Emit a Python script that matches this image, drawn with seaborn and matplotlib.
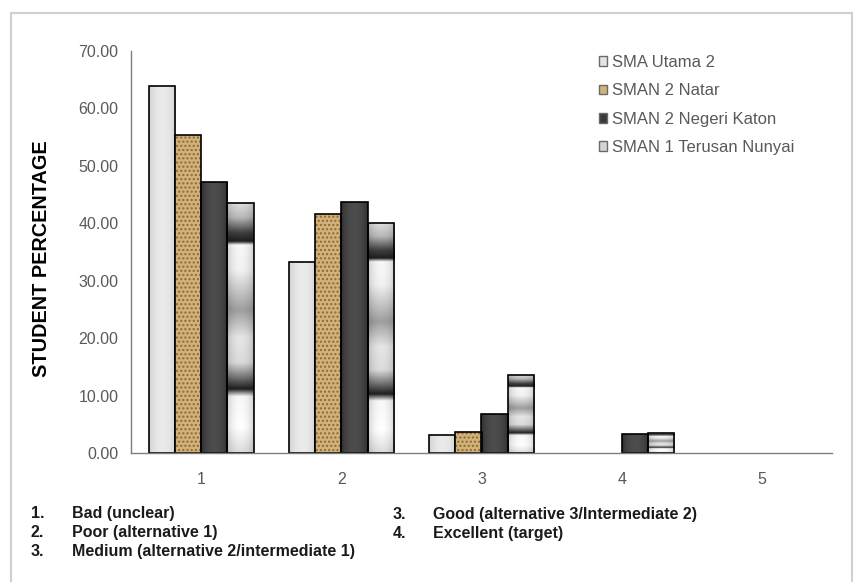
import numpy as np
import pandas as pd
import seaborn as sns
import matplotlib.pyplot as plt
from matplotlib.patches import Patch, Rectangle

# Data
categories = ["1", "2", "3", "4", "5"]
schools = ["SMA Utama 2", "SMAN 2 Natar", "SMAN 2 Negeri Katon", "SMAN 1 Terusan Nunyai"]
sma_utama_2 = [63.9, 33.3, 3.2, 0.0, 0.0]
sman_2_natar = [55.4, 41.7, 3.7, 0.0, 0.0]
sman_2_negeri_katon = [47.2, 43.7, 6.8, 3.3, 0.0]
sman_1_terusan_nunyai = [43.6, 40.1, 13.6, 3.5, 0.0]
y_ticks = [0, 10, 20, 30, 40, 50, 60, 70]
note_nums_left = ["1.", "2.", "3."]
notes_left = ["Bad (unclear)", "Poor (alternative 1)", "Medium (alternative 2/intermediate 1)"]
note_nums_right = ["3.", "4."]
notes_right = ["Good (alternative 3/Intermediate 2)", "Excellent (target)"]

df = pd.DataFrame({
    "category": categories * 4,
    "school": np.repeat(schools, len(categories)),
    "value": sma_utama_2 + sman_2_natar + sman_2_negeri_katon + sman_1_terusan_nunyai,
})

sns.set_theme(style="white")
plt.rcParams["font.family"] = ["Liberation Sans", "DejaVu Sans"]
plt.rcParams["hatch.linewidth"] = 1.0

legend_colors = ["#e4e4e4", "#d2b27a", "#3a3a3a", "#d4d4d4"]


def cylinder(n=40, lo=0.82, hi=1.0):
    x = np.linspace(0, 1, n)
    return lo + (hi - lo) * np.sin(np.pi * x) ** 0.6


def solid_texture(gray_lo, gray_hi):
    shade = gray_lo + (gray_hi - gray_lo) * (cylinder() - 0.82) / 0.18
    img = np.tile(shade[None, :], (4, 1))
    return np.dstack([img, img, img])


# stretched banded fill of the last series (fraction from top, grey level)
band_pos = [0, 0.06, 0.12, 0.155, 0.17, 0.27, 0.43, 0.54, 0.64, 0.70, 0.745, 0.775, 0.9, 1.0]
band_val = [0.88, 0.72, 0.25, 0.12, 0.97, 0.95, 0.62, 0.9, 0.86, 0.45, 0.12, 0.97, 1.0, 0.86]
rows = np.interp(np.linspace(0, 1, 300), band_pos, band_val)
band_img = np.clip(rows[:, None] * cylinder(lo=0.8)[None, :], 0, 1)
band_img = np.dstack([band_img, band_img, band_img])

textures = {
    "SMA Utama 2": solid_texture(0.80, 0.92),
    "SMAN 2 Negeri Katon": solid_texture(0.17, 0.30),
    "SMAN 1 Terusan Nunyai": band_img,
}

fig = plt.figure(figsize=(8.54, 5.82), dpi=100)
ax = fig.add_axes([131 / 854, 1 - 453 / 582, 701 / 854, 402 / 582])

sns.barplot(data=df, x="category", y="value", hue="school", order=categories,
            hue_order=schools, palette=dict(zip(schools, legend_colors)),
            width=0.75, saturation=1, edgecolor="black", linewidth=1.2,
            errorbar=None, legend=False, ax=ax)

for name, cont in zip(schools, ax.containers):
    for bar in cont:
        h = bar.get_height()
        if h <= 0:
            bar.set_visible(False)
            continue
        x0, w = bar.get_x(), bar.get_width()
        if name in textures:
            im = ax.imshow(textures[name], extent=[x0, x0 + w, 0, h], aspect="auto",
                           interpolation="bilinear", zorder=bar.get_zorder() - 0.01)
            im.set_clip_path(bar)
            bar.set_facecolor("none")
        else:
            # sandy fill: hatch in brown, outline drawn again in black
            bar.set_hatch("....")
            bar.set_edgecolor("#8a6a35")
            bar.set_linewidth(0)
            ax.add_patch(Rectangle((x0, 0), w, h, fill=False, edgecolor="black",
                                   linewidth=1.2, zorder=bar.get_zorder() + 0.01))

ax.set_xlim(-0.5, len(categories) - 0.5)
ax.set_ylim(0, 70)
ax.set_yticks(y_ticks)
ax.set_yticklabels([f"{v:.2f}" for v in y_ticks])
ax.set_xticks(np.arange(len(categories)) + 0.5)
ax.set_xticklabels([])
ax.set_xticks(np.arange(len(categories)), minor=True)
ax.set_xticklabels(categories, minor=True)
ax.tick_params(axis="x", which="major", length=3, width=1, color="#7f7f7f", direction="out")
ax.tick_params(axis="x", which="minor", length=0, pad=14, labelsize=11.5, labelcolor="#595959")
ax.tick_params(axis="y", length=3, width=1, color="#7f7f7f", direction="out", pad=6,
               labelsize=11.5, labelcolor="#595959")
ax.set_xlabel("")
ax.set_ylabel("")
for side in ["top", "right"]:
    ax.spines[side].set_visible(False)
for side in ["left", "bottom"]:
    ax.spines[side].set_color("#7f7f7f")
    ax.spines[side].set_linewidth(1)

handles = [Patch(facecolor=c, edgecolor="#6a6a6a", linewidth=1, label=s)
           for c, s in zip(legend_colors, schools)]
ax.legend(handles=handles, loc="upper left", bbox_to_anchor=(599 / 854, 1 - 55 / 582),
          bbox_transform=fig.transFigure, frameon=False, fontsize=12,
          labelcolor="#595959", handlelength=0.5, handleheight=0.5,
          handletextpad=0.3, labelspacing=0.8, borderpad=0, borderaxespad=0)

fig.text(42 / 854, 1 - 259 / 582, "STUDENT PERCENTAGE", rotation=90, ha="center",
         va="center", fontsize=14.3, fontweight="bold", color="black")

note_font = dict(fontsize=11.5, fontweight="bold", color="#1a1a1a", va="baseline")
for i, (n, t) in enumerate(zip(note_nums_left, notes_left)):
    y = 1 - (518 + 19 * i) / 582
    fig.text(31 / 854, y, n, **note_font)
    fig.text(72 / 854, y, t, **note_font)
for i, (n, t) in enumerate(zip(note_nums_right, notes_right)):
    y = 1 - (519 + 19 * i) / 582
    fig.text(393 / 854, y, n, **note_font)
    fig.text(433 / 854, y, t, **note_font)

# light grey frame around the whole chart
fig.patches.append(Rectangle((11 / 854, -0.01), 841 / 854, 1.01 - 13 / 582,
                             transform=fig.transFigure, fill=False,
                             edgecolor="#d0d0d0", linewidth=1.5))

fig.savefig("out.png", dpi=100)
